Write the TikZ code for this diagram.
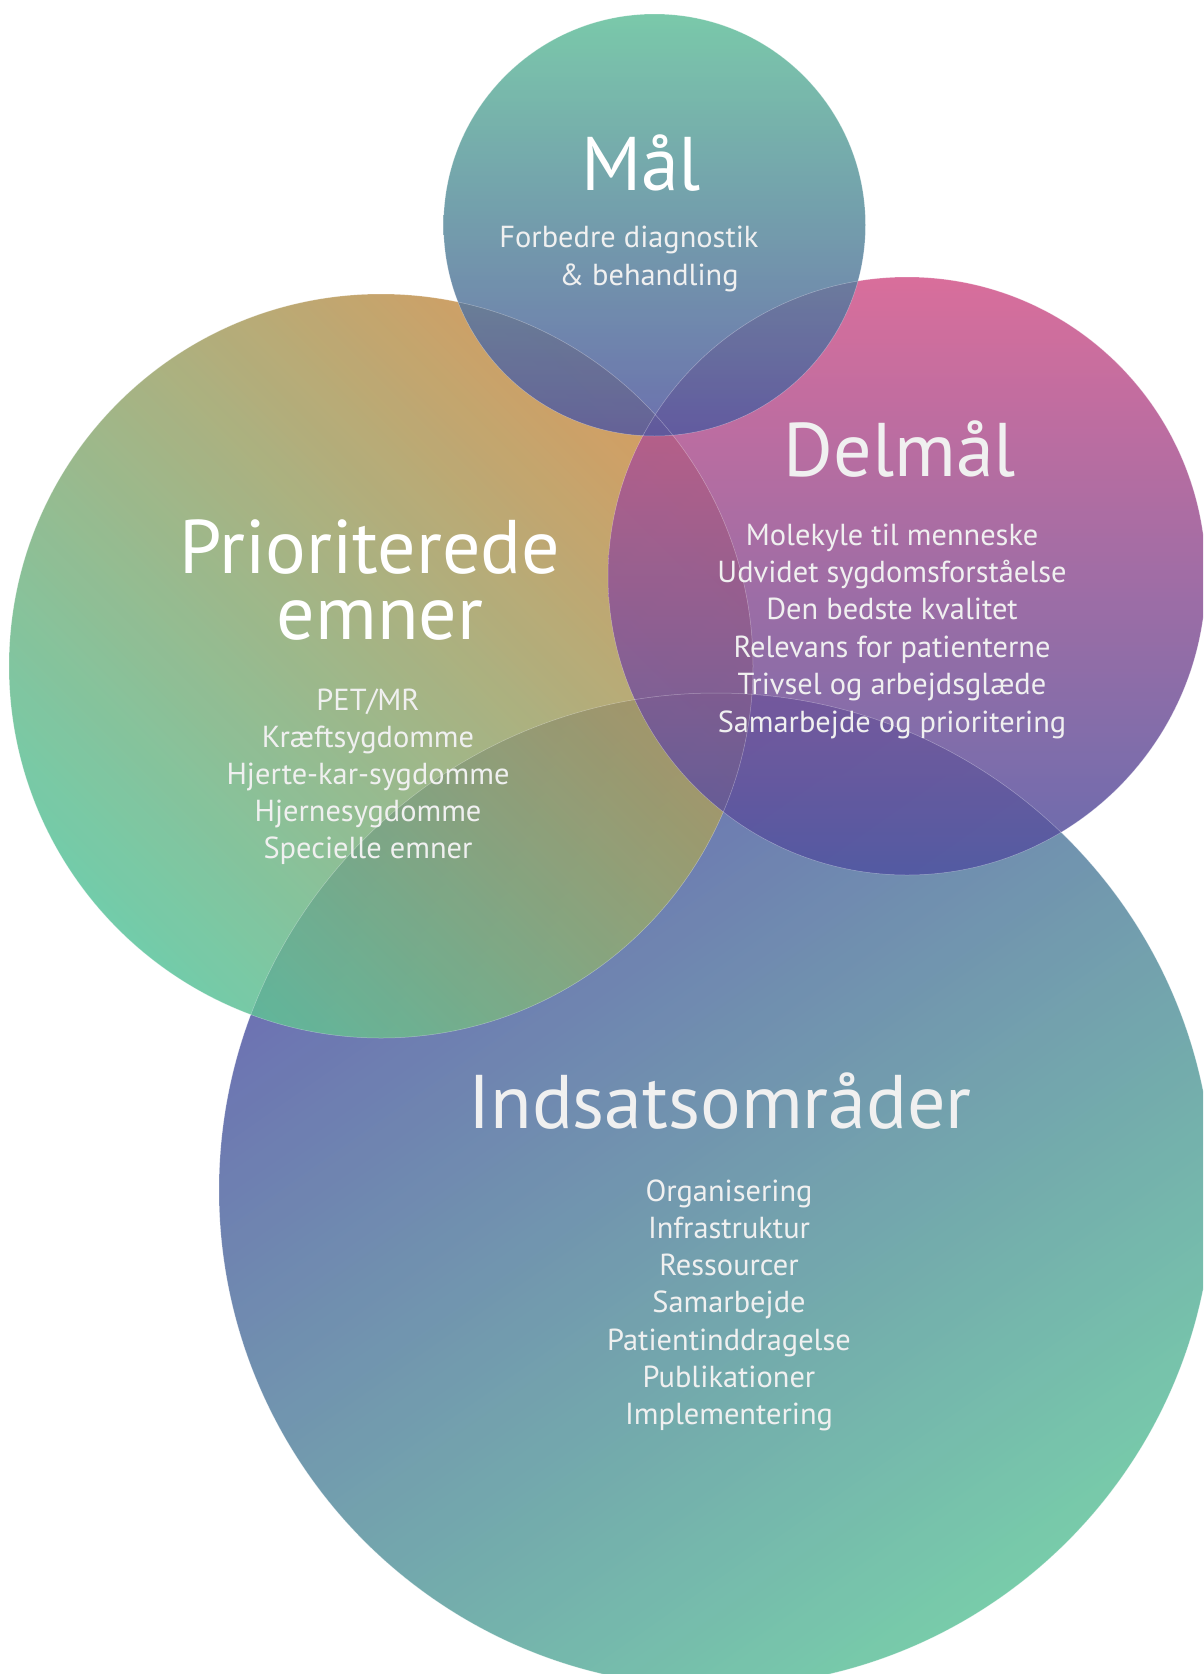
\documentclass[tikz,border=0pt]{standalone}
\usepackage{fontspec}
\setmainfont{PT Sans}
\definecolor{malTop}{RGB}{99,191,155}
\definecolor{malBot}{RGB}{82,87,160}
\definecolor{delTop}{RGB}{210,85,138}
\definecolor{delBot}{RGB}{78,82,160}
\definecolor{priTop}{RGB}{205,140,70}
\definecolor{priBot}{RGB}{90,195,155}
\definecolor{indTop}{RGB}{82,80,165}
\definecolor{indBot}{RGB}{96,195,155}
\definecolor{txt}{RGB}{240,240,240}
\tikzset{
  circ/.style={opacity=0.85},
  edge/.style={draw=white, draw opacity=0.35, line width=0.5pt},
  head/.style={text=white, font=\fontsize{76}{80}\selectfont, inner sep=0pt, anchor=base},
  body/.style={text=txt, font=\fontsize{30.4}{34}\selectfont, inner sep=0pt, anchor=base}
}
\begin{document}
\begin{tikzpicture}[x=1pt,y=1pt]
\useasboundingbox (0,0) rectangle (1203,-1674);
\begin{scope}
\clip (0,0) rectangle (1203,-1674);
\shade[circ, top color=indTop, bottom color=indBot, shading angle=35] (716,-1190) circle (497);
\shade[circ, top color=priTop, bottom color=priBot, shading angle=-45] (381,-666) circle (372);
\shade[circ, top color=delTop, bottom color=delBot] (907,-576) circle (299);
\shade[circ, top color=malTop, bottom color=malBot] (654.5,-225) circle (211);
\draw[edge] (716,-1190) circle (497);
\draw[edge] (381,-666) circle (372);
\draw[edge] (907,-576) circle (299);
\draw[edge] (654.5,-225) circle (211);
\end{scope}
% Mål
\node[head] (malT) at (641,-190) {Mål};
\node[body] (mal1) at (629,-247) {Forbedre diagnostik};
\node[body] (mal2) at (649,-285) {\& behandling};
% Delmål
\node[head, text=txt] (delT) at (900,-476) {Delmål};
\foreach \t [count=\i] in {Molekyle til menneske, Udvidet sygdomsforståelse, Den bedste kvalitet, Relevans for patienterne, Trivsel og arbejdsglæde, Samarbejde og prioritering}
  \node[body] (del\i) at (892,{-545-37.4*(\i-1)}) {\t};
% Prioriterede
\node[head] (priT1) at (370,-573) {Prioriterede};
\node[head] (priT2) at (380,-639) {emner};
\foreach \t [count=\i] in {PET/MR, Kræftsygdomme, Hjerte-kar-sygdomme, Hjernesygdomme, Specielle emner}
  \node[body] (pri\i) at (368,{-710-37*(\i-1)}) {\t};
% Indsatsområder
\node[head, text=txt] (indT) at (720,-1128) {Indsatsområder};
\foreach \t [count=\i] in {Organisering, Infrastruktur, Ressourcer, Samarbejde, Patientinddragelse, Publikationer, Implementering}
  \node[body] (ind\i) at (729,{-1201-37.3*(\i-1)}) {\t};
\end{tikzpicture}
\end{document}
